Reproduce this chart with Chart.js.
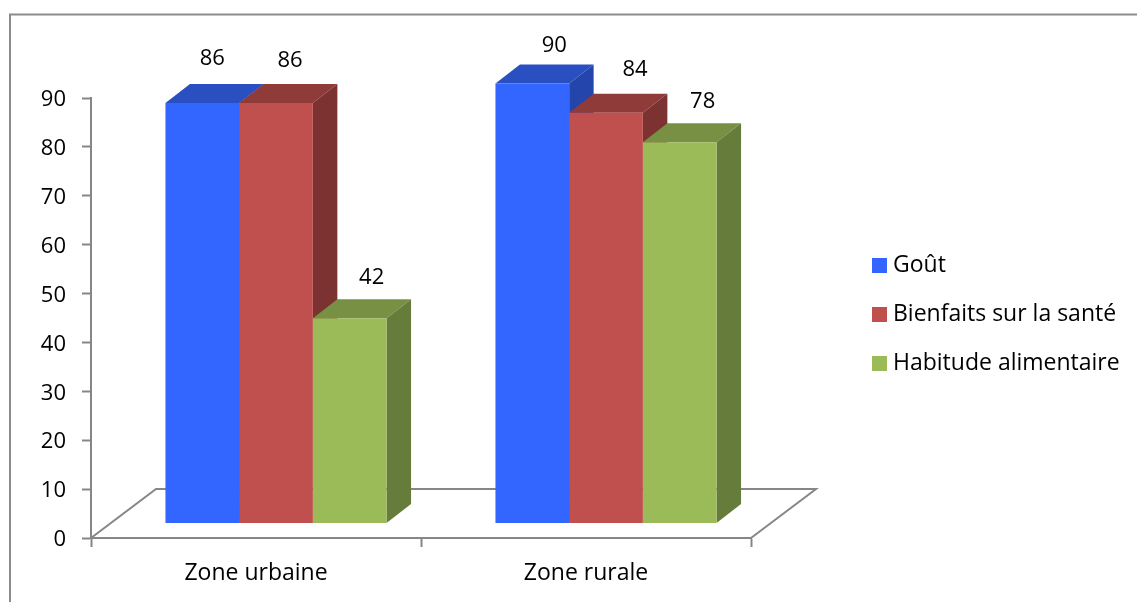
<!DOCTYPE html>
<html>
<head>
<meta charset="utf-8">
<style>
  html, body { margin: 0; padding: 0; background: #fff; }
  #wrap { position: relative; width: 1137px; height: 602px; overflow: hidden; }
</style>
<script src="https://cdn.jsdelivr.net/npm/chart.js@4"></script>
</head>
<body>
<div id="wrap"><canvas id="chart" width="1137" height="602"></canvas></div>
<script>
const categories = ['Zone urbaine', 'Zone rurale'];
const gout = [86, 90];
const bienfaits = [86, 84];
const habitude = [42, 78];
const yTicks = [0, 10, 20, 30, 40, 50, 60, 70, 80, 90];

const FONT = '"Open Sans", sans-serif';
const AXIS_GREY = '#868686';

// Oblique projection used for the pseudo 3D boxes and the floor.
const BAR_DEPTH = { x: 24.5, y: -19 };
const FLOOR_DEPTH = { x: 65, y: -49 };
const BAR_SHIFT = { x: 20, y: -14.5 };

// Hand placed value labels, relative to the front top centre of each bar.
const labelNudge = [
  [[10, -44], [22, -38]],
  [[14, -42], [29, -43]],
  [[22, -40], [23, -40]]
];

const front = ['#3366ff', '#c0504d', '#9bbb59'];
const top3d = ['#2a4fc0', '#8f3b39', '#779043'];
const side3d = ['#2445ab', '#7b3231', '#667c3a'];

// Square legend swatches, wider than the slot the legend reserves for them.
function swatch(color) {
  const s = document.createElement('canvas');
  s.width = s.height = 15;
  const g = s.getContext('2d');
  g.fillStyle = color;
  g.fillRect(0, 0, 15, 15);
  return s;
}

const pseudo3d = {
  id: 'pseudo3d',
  beforeLayout(chart) {
    // Reserve the whole right column for the legend so the plot keeps its width.
    const legend = chart.legend;
    if (legend && !legend._wideFit) {
      const fit = legend.fit.bind(legend);
      legend.fit = function () { fit(); this.width = 386; };
      legend._wideFit = true;
    }
  },
  afterLayout(chart) {
    const legend = chart.legend;
    legend.left = 851.5;
    legend.top -= 36;
    legend.bottom -= 36;
  },
  beforeDraw(chart) {
    const c = chart.ctx;
    c.save();
    c.strokeStyle = '#8c8c8c';
    c.lineWidth = 2;
    c.beginPath();
    c.moveTo(10, 602);
    c.lineTo(10, 14.5);
    c.lineTo(1137, 14.5);
    c.stroke();
    c.restore();
  },
  beforeDatasetsDraw(chart) {
    const c = chart.ctx;
    const x = chart.scales.x, y = chart.scales.y;
    const y0 = y.getPixelForValue(0);

    // Floor outline behind the boxes.
    c.save();
    c.strokeStyle = AXIS_GREY;
    c.lineWidth = 2;
    c.beginPath();
    c.moveTo(x.left, y0);
    c.lineTo(x.left + FLOOR_DEPTH.x, y0 + FLOOR_DEPTH.y);
    c.lineTo(x.right + FLOOR_DEPTH.x, y0 + FLOOR_DEPTH.y);
    c.lineTo(x.right, y0);
    c.stroke();
    c.restore();

    // Top and side faces; the library draws the front faces afterwards.
    c.save();
    c.translate(BAR_SHIFT.x, BAR_SHIFT.y);
    chart.data.datasets.forEach((ds, d) => {
      chart.getDatasetMeta(d).data.forEach(bar => {
        const l = bar.x - bar.width / 2, r = bar.x + bar.width / 2;
        c.fillStyle = top3d[d];
        c.beginPath();
        c.moveTo(l, bar.y);
        c.lineTo(l + BAR_DEPTH.x, bar.y + BAR_DEPTH.y);
        c.lineTo(r + BAR_DEPTH.x, bar.y + BAR_DEPTH.y);
        c.lineTo(r, bar.y);
        c.closePath();
        c.fill();
        c.fillStyle = side3d[d];
        c.beginPath();
        c.moveTo(r, bar.y);
        c.lineTo(r + BAR_DEPTH.x, bar.y + BAR_DEPTH.y);
        c.lineTo(r + BAR_DEPTH.x, bar.base + BAR_DEPTH.y);
        c.lineTo(r, bar.base);
        c.closePath();
        c.fill();
      });
    });
    c.restore();

    // The front faces sit on the floor, slightly right of and above the axis origin.
    c.save();
    c.translate(BAR_SHIFT.x, BAR_SHIFT.y);
  },
  afterDatasetsDraw(chart) {
    const c = chart.ctx;
    c.restore();
    c.save();
    c.fillStyle = '#000';
    c.font = '22px ' + FONT;
    c.textAlign = 'center';
    c.textBaseline = 'middle';
    chart.data.datasets.forEach((ds, d) => {
      chart.getDatasetMeta(d).data.forEach((bar, i) => {
        const n = labelNudge[d][i];
        c.fillText(String(ds.data[i]), bar.x + BAR_SHIFT.x + n[0], bar.y + BAR_SHIFT.y + n[1]);
      });
    });
    c.restore();
  }
};

const makeDataset = (label, data, i) => ({
  label, data,
  backgroundColor: front[i],
  borderWidth: 0,
  clip: false,
  categoryPercentage: 0.67,
  barPercentage: 1
});

new Chart(document.getElementById('chart'), {
  type: 'bar',
  data: {
    labels: categories,
    datasets: [
      makeDataset('Goût', gout, 0),
      makeDataset('Bienfaits sur la santé', bienfaits, 1),
      makeDataset('Habitude alimentaire', habitude, 2)
    ]
  },
  plugins: [pseudo3d],
  options: {
    responsive: false,
    animation: false,
    events: [],
    layout: { padding: { left: 0, top: 98, right: 0, bottom: 0 } },
    scales: {
      x: {
        grid: { display: true, drawOnChartArea: false, drawTicks: true, tickLength: 9, tickColor: AXIS_GREY, tickWidth: 2 },
        border: { color: AXIS_GREY, width: 2 },
        ticks: { color: '#000', padding: 13, font: { family: FONT, size: 23 }, maxRotation: 0 },
        afterFit(s) { s.height = 64; }
      },
      y: {
        min: 0, max: 90,
        afterBuildTicks(s) { s.ticks = yTicks.map(v => ({ value: v })); },
        afterFit(s) { s.width = 91; },
        grid: { display: true, drawOnChartArea: false, drawTicks: true, tickLength: 9, tickColor: AXIS_GREY, tickWidth: 2 },
        border: { color: AXIS_GREY, width: 2 },
        ticks: { color: '#000', padding: 16, labelOffset: 2, font: { family: FONT, size: 22 } }
      }
    },
    plugins: {
      tooltip: { enabled: false },
      title: { display: false },
      legend: {
        position: 'right',
        labels: {
          color: '#000',
          usePointStyle: true,
          pointStyleWidth: 4,
          padding: 26,
          font: { family: FONT, size: 23 },
          generateLabels(chart) {
            const base = Chart.defaults.plugins.legend.labels.generateLabels(chart);
            return base.map((item, i) => Object.assign(item, { pointStyle: swatch(front[i]) }));
          }
        }
      }
    }
  }
});
</script>
</body>
</html>
